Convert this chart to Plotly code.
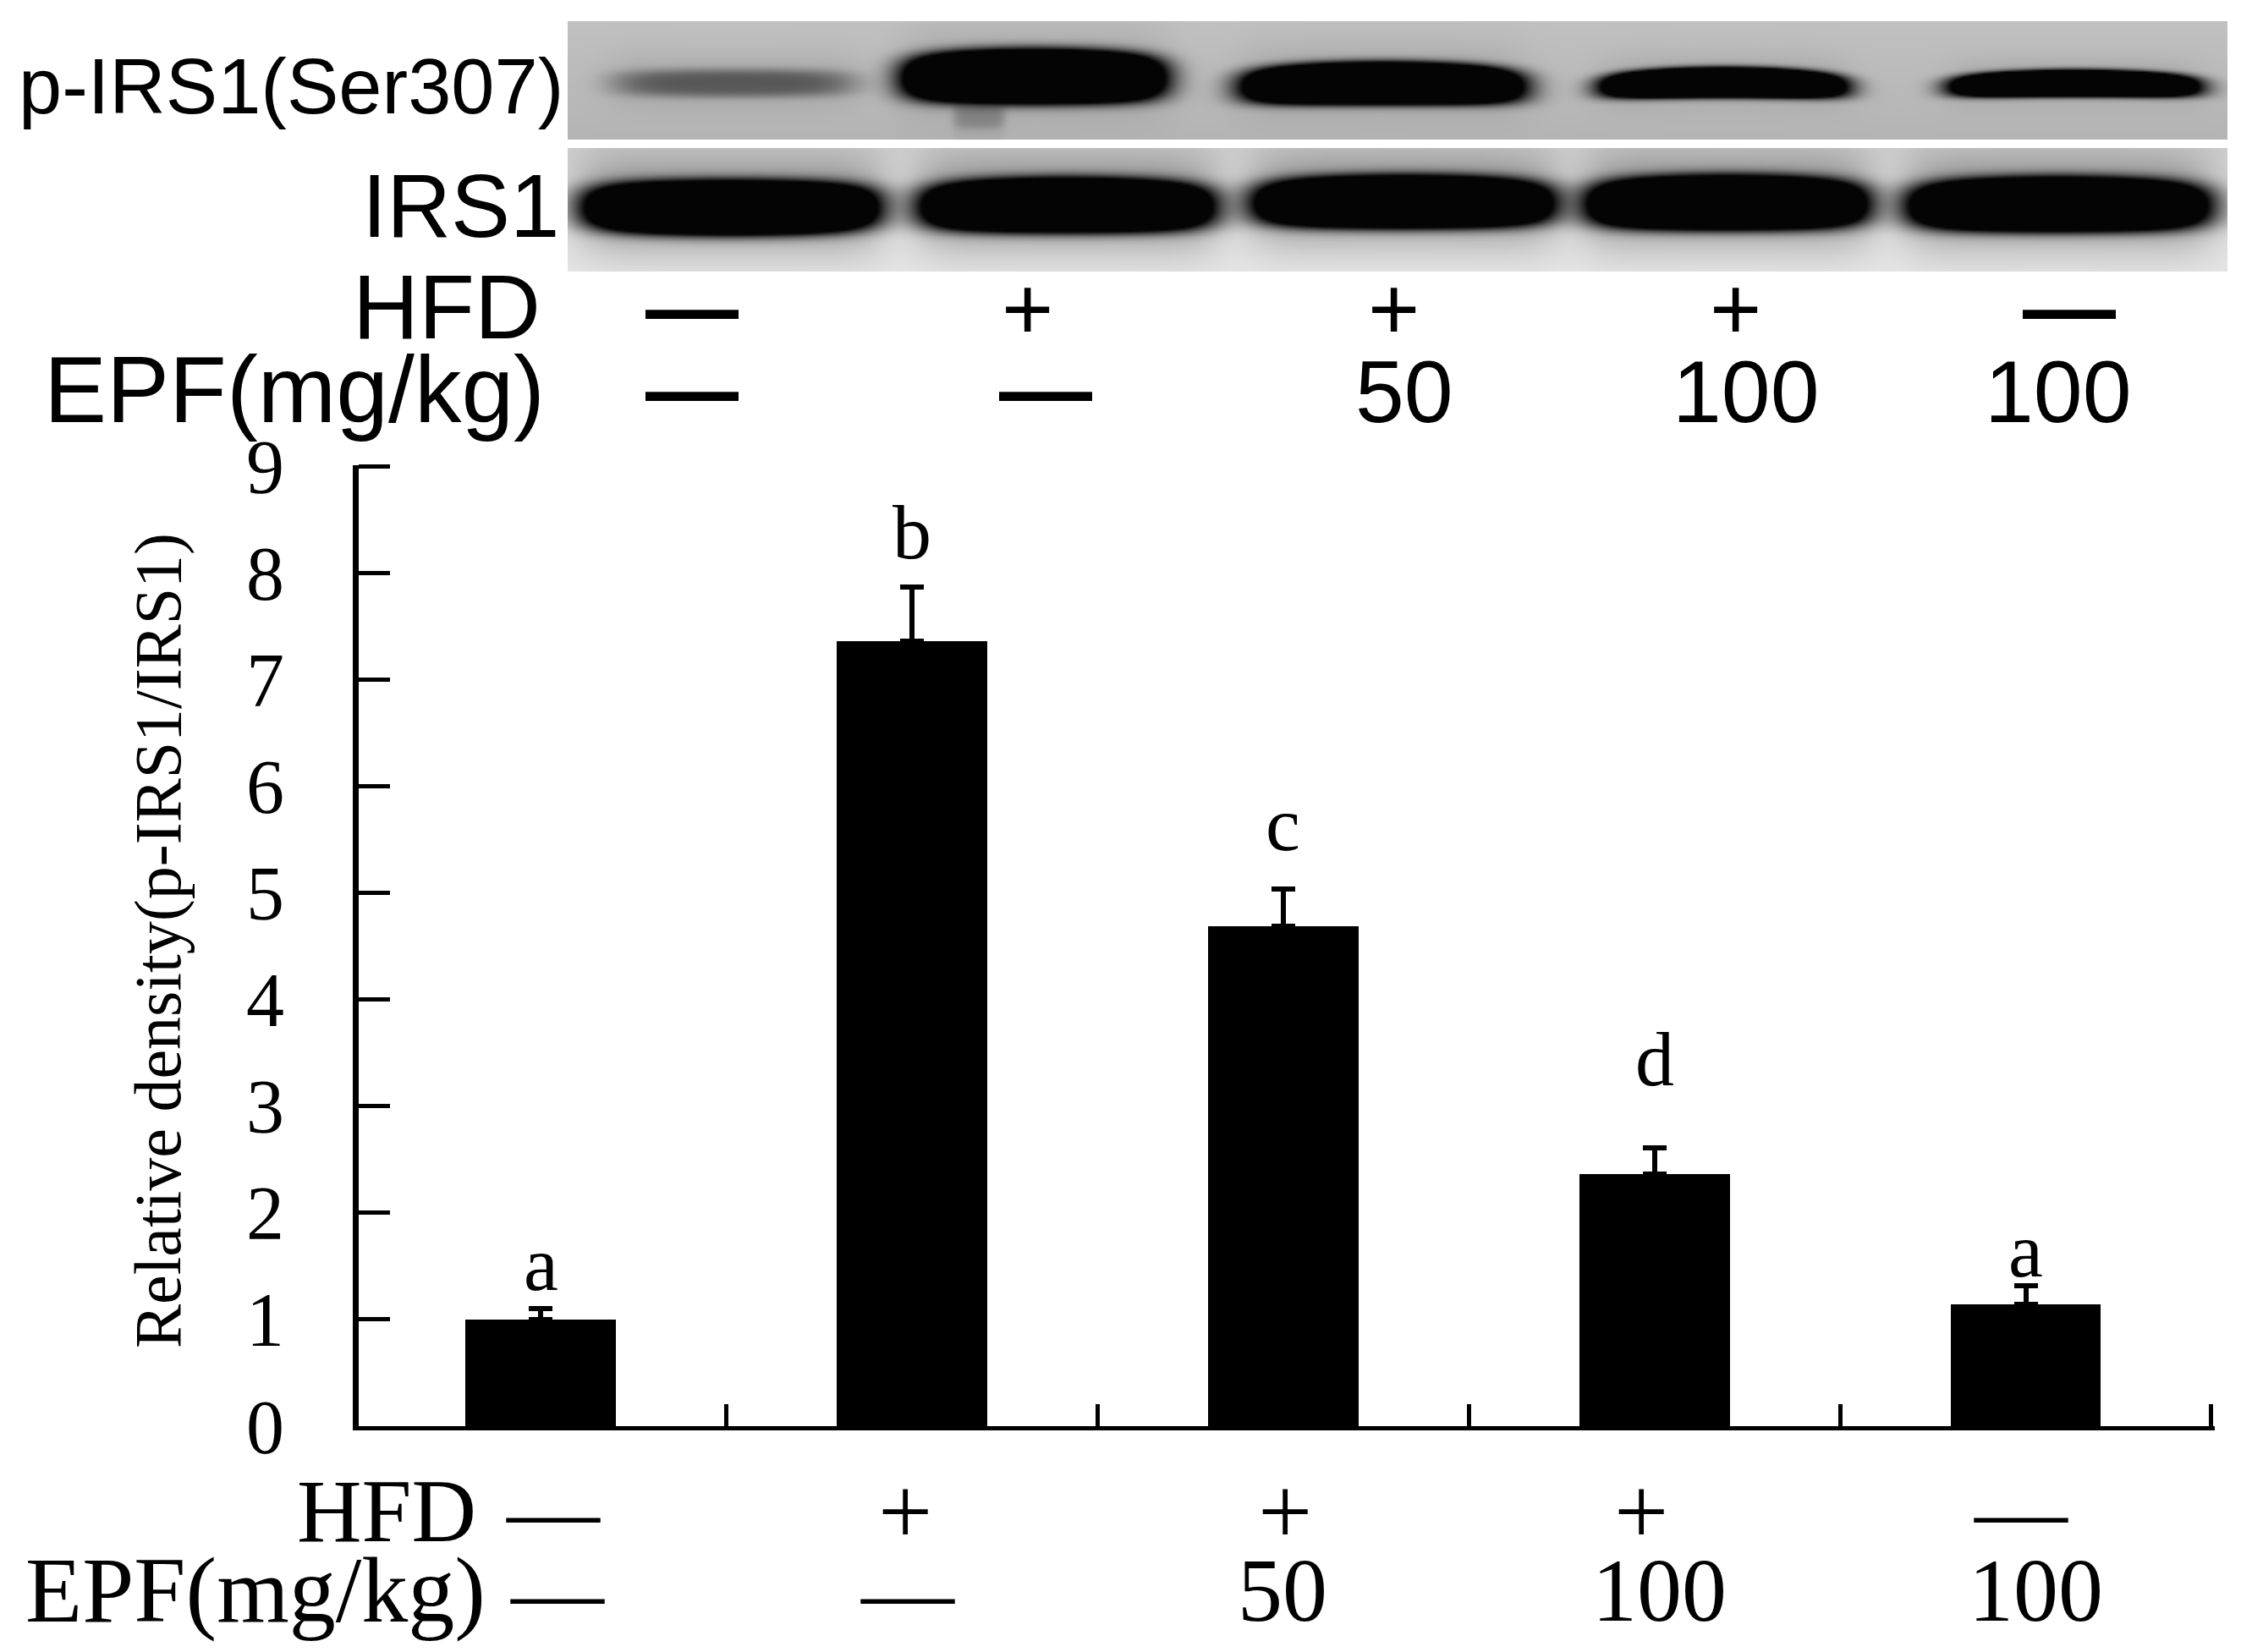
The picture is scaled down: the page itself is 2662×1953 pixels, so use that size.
import numpy as np
import plotly.graph_objects as go

# ---- chart data ----
groups = [1, 2, 3, 4, 5]
density = [1.0, 7.36, 4.69, 2.36, 1.14]
err_up = [0.10, 0.51, 0.35, 0.25, 0.18]
sig_letters = ["a", "b", "c", "d", "a"]
sig_y = [1.52, 8.38, 5.65, 3.44, 1.65]
y_ticks = [0, 1, 2, 3, 4, 5, 6, 7, 8, 9]
x_ticks = [1.5, 2.5, 3.5, 4.5, 5.5]
hfd_row = ["—", "+", "+", "+", "—"]
epf_row = ["—", "—", "50", "100", "100"]

# ---- western blot lanes: centre x, half-width, centre y, half-height, strength, curve ----
blot1_cx = [867, 1222, 1157, 1634, 2037, 2452]
blot1_ax = [143, 152, 30, 163, 142, 144]
blot1_cy = [98, 90, 138, 98, 97, 98]
blot1_ay = [17, 31, 14, 24, 17, 15]
blot1_str = [0.48, 3, 0.16, 3, 3, 3]
blot1_cv = [0, -2, 0, -4, -5, -4]
blot2_cx = [864, 1261, 1659, 2041, 2433]
blot2_ax = [170, 169, 173, 162, 173]
blot2_cy = [245, 242, 238, 239, 241]
blot2_ay = [31, 31, 30, 31, 31]
blot2_str = [3] * 5
blot2_cv = [0, -2, -2, -2, -2]

W, H = 2662, 1953
INSET = 8  # the page body's own margin
AX_L, AX_R, AX_T, AX_B = 424, 2617.5, 550, 1686
BLOT_L, BLOT_R = 671, 2633
B1_T, B1_B = 25, 165
B2_T, B2_B = 175, 321
SANS, SERIF = "Liberation Sans", "Liberation Serif"
FW, FH = W - 2 * INSET, H - 2 * INSET


def fx(px):
    return (px - INSET) / FW


def fy(py):
    return 1 - (py - INSET) / FH


def blot(top, bottom, cx, ax, cy, ay, st, cv, bg_top, bg_bottom, halo):
    xs = np.arange(BLOT_L, BLOT_R + 1, 2.0)
    ys = np.arange(top, bottom + 1, 2.0)
    X, Y = np.meshgrid(xs, ys)
    bg = bg_top + (bg_bottom - bg_top) * (Y - top) / (bottom - top)
    trans = np.ones_like(X)
    for c, a, y0, b, s, k in zip(cx, ax, cy, ay, st, cv):
        u = (X - c) / a
        v = (Y - y0 + k * u ** 2) / b
        core = s * np.exp(-(np.abs(u) ** 6 + np.abs(v) ** 4 + 0.8 * (u * v) ** 2))
        soft = halo * np.exp(-((u / 1.05) ** 8 + ((v + 0.15) / 1.75) ** 2))
        trans *= np.clip(1 - core, 0, 1) * (1 - soft)
    return xs, ys, bg * trans + 4


fig = go.Figure()

fig.add_bar(
    x=groups, y=density, width=0.405, marker=dict(color="black", line_width=0),
    error_y=dict(type="data", symmetric=False, array=err_up,
                 arrayminus=[0] * 5, color="black", thickness=6, width=14),
)
for xs, ys, z, xa, ya in [
    (*blot(B1_T, B1_B, blot1_cx, blot1_ax, blot1_cy, blot1_ay, blot1_str, blot1_cv, 188, 176, 0.12), "x2", "y2"),
    (*blot(B2_T, B2_B, blot2_cx, blot2_ax, blot2_cy, blot2_ay, blot2_str, blot2_cv, 202, 226, 0.38), "x3", "y3"),
]:
    fig.add_heatmap(x=xs, y=ys, z=z, xaxis=xa, yaxis=ya, zmin=0, zmax=255, zsmooth="best",
                    colorscale=[[0, "black"], [1, "white"]], showscale=False, hoverinfo="skip")


def txt(px, py, s, size, fam, angle=0):
    fig.add_annotation(x=fx(px), y=fy(py), xref="paper", yref="paper", text=s, showarrow=False,
                       textangle=angle, xanchor="center", yanchor="middle",
                       font=dict(family=fam, size=size, color="black"))


for i, (s, y) in enumerate(zip(sig_letters, sig_y)):
    fig.add_annotation(x=groups[i], y=y, text=s, showarrow=False, xref="x", yref="y",
                       xanchor="center", yanchor="middle", font=dict(family=SERIF, size=92, color="black"))

# y axis label
txt(186, 1112, "Relative density(p-IRS1/IRS1)", 78, SERIF, -90)

# blot labels
txt(344, 102, "p-IRS1(Ser307)", 92, SANS)
txt(544, 243, "IRS1", 105, SANS)
txt(528, 362, "HFD", 108, SANS)
txt(348, 461, "EPF(mg/kg)", 111, SANS)
top_hfd_x = [818, 1214, 1647, 2051, 2446]
top_epf_x = [818, 1236, 1660, 2064, 2433]
for px, s in zip(top_hfd_x, hfd_row):
    if s == "—":
        txt(px, 362, "<b>—</b>", 110, SANS)
    else:
        txt(px, 364, s, 105, SANS)
for px, s in zip(top_epf_x, epf_row):
    if s == "—":
        txt(px, 459, "<b>—</b>", 110, SANS)
    else:
        txt(px, 463, s, 104, SANS)

# lower labels
txt(457, 1786, "HFD", 106, SERIF)
txt(302, 1880, "EPF(mg/kg)", 110, SERIF)
low_hfd_x = [654, 1070, 1519, 1940, 2389]
low_epf_x = [659, 1073, 1516, 1961, 2406]
for px, s in zip(low_hfd_x, hfd_row):
    if s == "—":
        txt(px, 1786, s, 110, SERIF)
    else:
        txt(px, 1786, s, 114, SERIF)
for px, s in zip(low_epf_x, epf_row):
    if s == "—":
        txt(px, 1882, s, 110, SERIF)
    else:
        txt(px, 1880, s, 106, SERIF)

hidden = dict(visible=False, fixedrange=True)
fig.update_layout(
    width=FW, height=FH, margin=dict(l=0, r=0, t=0, b=0, autoexpand=False, pad=0),
    paper_bgcolor="white", plot_bgcolor="white",
    showlegend=False, bargap=0,
    xaxis=dict(domain=[fx(AX_L), fx(AX_R)], range=[0.51, 5.508], showgrid=False, zeroline=False,
               tickmode="array", tickvals=x_ticks, ticktext=[""] * 5, ticks="inside", ticklen=26,
               tickwidth=5, tickcolor="black", showline=True, linecolor="black", linewidth=5),
    yaxis=dict(domain=[fy(AX_B), fy(AX_T)], range=[0, 9.01], showgrid=False, zeroline=False,
               tickmode="array", tickvals=y_ticks, ticks="inside", ticklen=37, tickwidth=5,
               tickcolor="black", showline=True, linecolor="black", linewidth=7,
               ticklabelstandoff=63, tickfont=dict(family=SERIF, size=90, color="black")),
    xaxis2=dict(domain=[fx(BLOT_L), fx(BLOT_R)], range=[BLOT_L, BLOT_R], anchor="y2", **hidden),
    yaxis2=dict(domain=[fy(B1_B), fy(B1_T)], range=[B1_B, B1_T], anchor="x2", **hidden),
    xaxis3=dict(domain=[fx(BLOT_L), fx(BLOT_R)], range=[BLOT_L, BLOT_R], anchor="y3", **hidden),
    yaxis3=dict(domain=[fy(B2_B), fy(B2_T)], range=[B2_B, B2_T], anchor="x3", **hidden),
)
fig.write_html("out.html")
